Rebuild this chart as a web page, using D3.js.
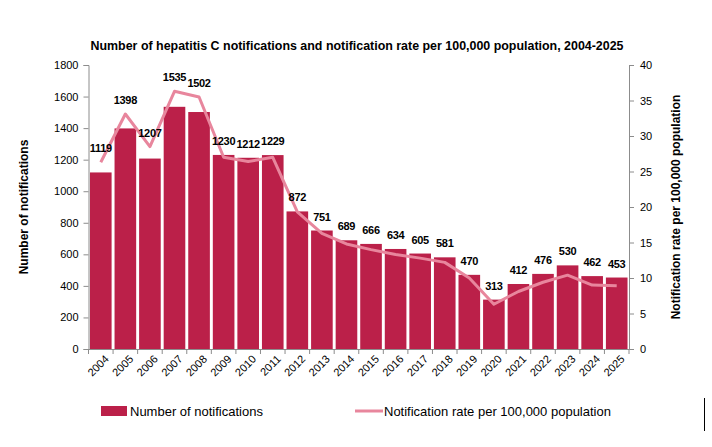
<!DOCTYPE html>
<html>
<head>
<meta charset="utf-8">
<script src="https://cdn.jsdelivr.net/npm/d3@7"></script>
<style>
  body { margin: 0; background: #fff; }
  svg { font-family: "Liberation Sans", Arial, sans-serif; }
</style>
</head>
<body>
<svg id="chart" width="712" height="447"></svg>
<script>
const years = ["2004", "2005", "2006", "2007", "2008", "2009", "2010", "2011", "2012", "2013", "2014",
  "2015", "2016", "2017", "2018", "2019", "2020", "2021", "2022", "2023", "2024", "2025"];
const notifications = [1119, 1398, 1207, 1535, 1502, 1230, 1212, 1229, 872, 751, 689,
  666, 634, 605, 581, 470, 313, 412, 476, 530, 462, 453];
const rates = [26.3, 33.1, 28.5, 36.3, 35.5, 27.0, 26.4, 27.0, 19.3, 16.3, 14.8,
  14.0, 13.3, 12.8, 12.2, 10.0, 6.3, 8.1, 9.4, 10.4, 9.0, 8.9];
const leftTicks = [0, 200, 400, 600, 800, 1000, 1200, 1400, 1600, 1800];
const rightTicks = [0, 5, 10, 15, 20, 25, 30, 35, 40];

const barColor = "#bb2049";
const lineColor = "#e8869d";
const axisColor = "#8c8c8c";

const svg = d3.select("#chart");
const margin = { top: 65, right: 83, bottom: 98, left: 88.5 };
const width = 712 - margin.left - margin.right;
const height = 447 - margin.top - margin.bottom;

const g = svg.append("g")
  .attr("transform", `translate(${margin.left}, ${margin.top})`);

const x = d3.scaleBand()
  .domain(years)
  .range([0, width])
  .paddingInner(0.12)
  .paddingOuter(0.06);

const yLeft = d3.scaleLinear().domain([0, 1800]).range([height, 0]);
const yRight = d3.scaleLinear().domain([0, 40]).range([height, 0]);

// title
svg.append("text")
  .attr("x", 357)
  .attr("y", 50)
  .attr("text-anchor", "middle")
  .attr("font-size", "12px")
  .attr("font-weight", "bold")
  .attr("textLength", 533)
  .attr("lengthAdjust", "spacingAndGlyphs")
  .text("Number of hepatitis C notifications and notification rate per 100,000 population, 2004-2025");

// bars
g.selectAll(".bar")
  .data(years)
  .enter().append("rect")
  .attr("class", "bar")
  .attr("x", d => x(d))
  .attr("width", x.bandwidth())
  .attr("y", (d, i) => yLeft(notifications[i]))
  .attr("height", (d, i) => height - yLeft(notifications[i]))
  .attr("fill", barColor);

// line
const line = d3.line()
  .x((d, i) => x(years[i]) + x.bandwidth() / 2)
  .y(d => yRight(d));

g.append("path")
  .datum(rates)
  .attr("fill", "none")
  .attr("stroke", lineColor)
  .attr("stroke-width", 3)
  .attr("stroke-linejoin", "round")
  .attr("d", line);

// data labels
g.selectAll(".lbl")
  .data(years)
  .enter().append("text")
  .attr("class", "lbl")
  .attr("x", d => x(d) + x.bandwidth() / 2)
  .attr("y", (d, i) => Math.min(yLeft(notifications[i]), yRight(rates[i])) - 10)
  .attr("text-anchor", "middle")
  .attr("font-size", "11px")
  .attr("font-weight", "bold")
  .attr("letter-spacing", "-0.3px")
  .attr("fill", "#000")
  .text((d, i) => notifications[i]);

// left axis
const leftAxis = g.append("g")
  .call(d3.axisLeft(yLeft).tickValues(leftTicks).tickFormat(d3.format("d")).tickSize(5).tickPadding(5));
// right axis
const rightAxis = g.append("g")
  .attr("transform", `translate(${width}, 0)`)
  .call(d3.axisRight(yRight).tickValues(rightTicks).tickSize(5).tickPadding(6));
// x axis with ticks at band edges
const xAxis = g.append("g")
  .attr("transform", `translate(0, ${height})`)
  .call(d3.axisBottom(x).tickSize(0).tickPadding(0));

xAxis.selectAll(".tick text")
  .attr("text-anchor", "end")
  .attr("font-size", "11px")
  .attr("transform", "translate(6, 8) rotate(-45)")
  .attr("dy", "0.35em");

xAxis.selectAll(".edge")
  .data(d3.range(years.length + 1))
  .enter().append("line")
  .attr("class", "edge")
  .attr("x1", i => i * x.step())
  .attr("x2", i => i * x.step())
  .attr("y1", 0)
  .attr("y2", 5)
  .attr("stroke", axisColor);

[leftAxis, rightAxis].forEach(a => {
  a.selectAll(".tick text").attr("font-size", "11px");
});
[leftAxis, rightAxis, xAxis].forEach(a => {
  a.select(".domain").attr("stroke", axisColor);
  a.selectAll(".tick line").attr("stroke", axisColor);
  a.selectAll(".tick text").attr("fill", "#000").attr("font-family", "Liberation Sans, Arial, sans-serif");
});

// axis titles
svg.append("text")
  .attr("transform", `translate(28, ${margin.top + height / 2}) rotate(-90)`)
  .attr("text-anchor", "middle")
  .attr("font-size", "12px")
  .attr("font-weight", "bold")
  .text("Number of notifications");

svg.append("text")
  .attr("transform", `translate(680, ${margin.top + height / 2}) rotate(-90)`)
  .attr("text-anchor", "middle")
  .attr("font-size", "12px")
  .attr("font-weight", "bold")
  .text("Notification rate per 100,000 population");

// legend
const legend = svg.append("g").attr("transform", "translate(0, 411)");
legend.append("rect")
  .attr("x", 101).attr("y", -5).attr("width", 26).attr("height", 10)
  .attr("fill", barColor);
legend.append("text")
  .attr("x", 130).attr("y", 0).attr("dy", "0.35em")
  .attr("font-size", "13px")
  .text("Number of notifications");
legend.append("line")
  .attr("x1", 355).attr("x2", 383).attr("y1", 0).attr("y2", 0)
  .attr("stroke", lineColor).attr("stroke-width", 3);
legend.append("text")
  .attr("x", 384).attr("y", 0).attr("dy", "0.35em")
  .attr("font-size", "13px")
  .text("Notification rate per 100,000 population");

// chart border fragment
svg.append("line")
  .attr("x1", 704.5).attr("x2", 704.5).attr("y1", 398).attr("y2", 431)
  .attr("stroke", "#000").attr("stroke-width", 1);
</script>
</body>
</html>
